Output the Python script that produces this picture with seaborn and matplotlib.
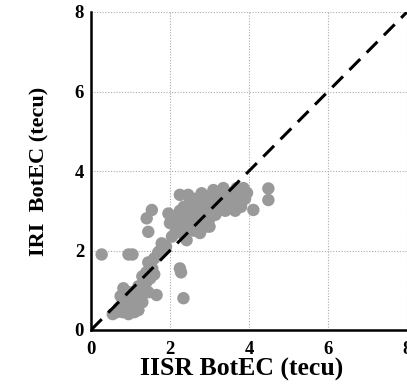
import matplotlib
matplotlib.use("Agg")
import matplotlib.pyplot as plt
import seaborn as sns
import pandas as pd

iisr = [0.55, 0.65, 0.70, 0.75, 0.80, 0.85, 0.90, 0.95, 1.00, 1.05, 1.10, 1.15, 0.75, 0.82, 0.95,
        1.00, 1.10, 1.20, 1.25, 1.30, 1.35, 1.40, 1.45, 1.30, 1.40, 1.50, 1.55, 1.45, 1.60, 1.20,
        1.66, 1.50, 1.60, 1.70, 1.75, 1.79, 1.85, 1.90,
        0.27, 0.95, 1.05, 1.41, 1.54, 1.45, 1.96, 2.00, 2.25, 2.28, 2.34,
        2.13, 2.20, 2.30, 2.25, 2.35, 2.42, 2.40, 2.50, 2.50, 2.25, 2.46, 2.60, 2.60, 2.65, 2.70,
        2.76, 2.80, 2.80, 2.85, 2.90, 2.95, 3.00, 3.00, 3.05, 3.10, 3.10, 3.15, 3.20, 3.25, 3.30,
        3.35, 3.35, 3.40, 3.45, 3.50, 3.55, 3.60, 3.65, 3.69, 3.70, 3.75, 3.80, 3.86, 3.90, 3.95,
        2.55, 2.70, 3.00, 2.90, 4.11, 4.49, 4.49, 2.05, 2.35, 2.15]
iri = [0.40, 0.45, 0.55, 0.60, 0.45, 0.70, 0.55, 0.40, 0.65, 0.50, 0.75, 0.60, 0.85, 1.05, 0.80,
       0.95, 0.45, 0.50, 0.90, 0.70, 1.00, 1.20, 0.95, 1.35, 1.45, 1.65, 1.55, 1.70, 1.40, 1.10,
       0.88, 1.30, 1.80, 1.95, 2.00, 2.18, 2.05, 2.10,
       1.90, 1.90, 1.90, 2.81, 3.02, 2.47, 2.93, 2.69, 1.55, 1.45, 0.80,
       2.44, 2.60, 2.80, 3.00, 3.10, 2.26, 2.60, 2.90, 3.20, 3.40, 3.40, 2.50, 3.00, 3.30, 2.70,
       2.44, 3.44, 2.90, 3.10, 2.60, 3.30, 2.80, 3.00, 3.40, 3.52, 3.15, 2.90, 3.30, 3.10, 3.50,
       3.57, 3.20, 3.00, 3.35, 3.10, 3.45, 3.30, 3.00, 3.57, 3.20, 3.40, 3.10, 3.57, 3.30, 3.45,
       2.75, 3.15, 2.60, 3.35, 3.02, 3.56, 3.27, 2.35, 2.40, 2.85]

ticks = [0, 2, 4, 6, 8]
xlabel = "IISR BotEC (tecu)"
ylabel = "IRI  BotEC (tecu)"

df = pd.DataFrame({"iisr": iisr, "iri": iri})

sns.set_style("white")
plt.rcParams['font.family'] = ['Liberation Serif', 'DejaVu Serif']
plt.rcParams['font.weight'] = 'bold'
plt.rcParams['text.color'] = 'black'
plt.rcParams['axes.labelcolor'] = 'black'
plt.rcParams['xtick.color'] = 'black'
plt.rcParams['ytick.color'] = 'black'

fig = plt.figure(figsize=(4.07, 3.87), dpi=100)
ax = fig.add_axes([91/407, 1-330/387, 316/407, 318/387])

ax.grid(True, color='#aaaaaa', linestyle=(0, (1, 1.5)), linewidth=0.8)
ax.set_axisbelow(True)

sns.scatterplot(data=df, x="iisr", y="iri", ax=ax, color="#999999", s=80,
                edgecolor='none', linewidth=0, zorder=3)
ax.plot([0, 8], [0, 8], color='black', linestyle=(0, (5, 3)), linewidth=2.2, zorder=4)

ax.set_xlim(0, 8)
ax.set_ylim(0, 8)
ax.set_xticks(ticks)
ax.set_yticks(ticks)
ax.set_xticklabels([str(t) for t in ticks], fontsize=13.5, fontweight='bold')
ax.set_yticklabels([str(t) for t in ticks], fontsize=13.5, fontweight='bold')
ax.set_xlabel(xlabel, fontsize=18.5, fontweight='bold')
ax.xaxis.set_label_coords(0.478, -0.088)
ax.set_ylabel(ylabel, fontsize=16, fontweight='bold', labelpad=18)

for side in ['top', 'right']:
    ax.spines[side].set_visible(False)
for side in ['left', 'bottom']:
    ax.spines[side].set_linewidth(1.8)
    ax.spines[side].set_color('black')
ax.tick_params(axis='both', direction='out', length=4, width=1.5, color='black', pad=1)
ax.tick_params(axis='x', pad=4)

fig.savefig("out.png", dpi=100)
